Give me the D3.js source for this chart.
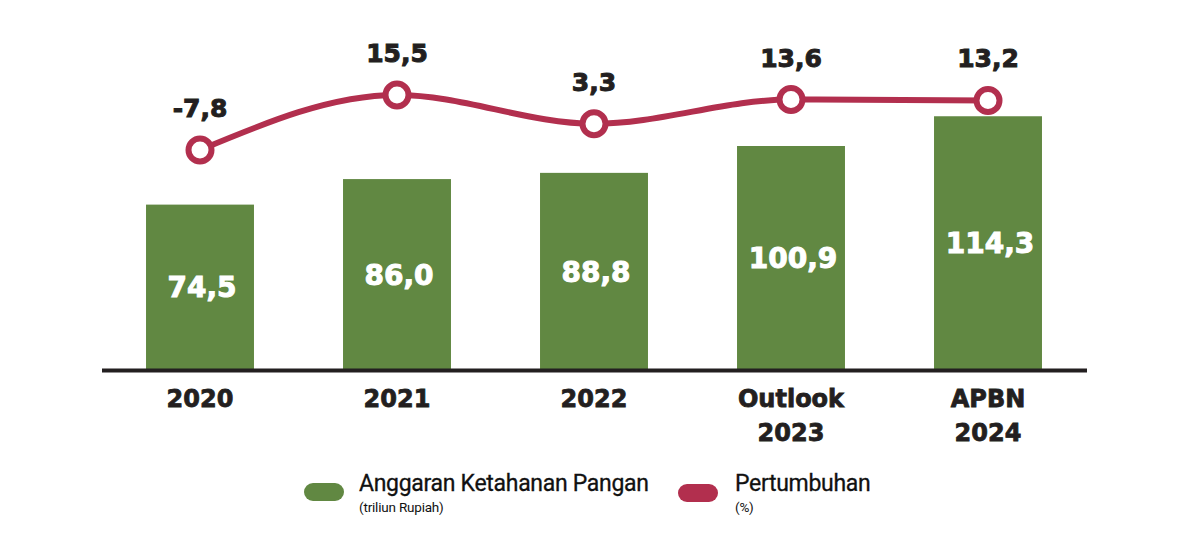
<!DOCTYPE html>
<html>
<head>
<meta charset="utf-8">
<script src="https://cdn.jsdelivr.net/npm/d3@7"></script>
<style>
  html, body { margin: 0; padding: 0; background: #ffffff; }
  svg { display: block; }
</style>
</head>
<body>
<svg id="chart" width="1198" height="552"></svg>
<script>
// ---- data ----
const categories = ["2020", "2021", "2022", "Outlook\n2023", "APBN\n2024"];
const budget = [74.5, 86.0, 88.8, 100.9, 114.3];       // Anggaran Ketahanan Pangan (triliun Rupiah)
const growth = [-7.8, 15.5, 3.3, 13.6, 13.2];          // Pertumbuhan (%)
const legendLabels = ["Anggaran Ketahanan Pangan", "Pertumbuhan"];
const legendSubLabels = ["(triliun Rupiah)", "(%)"];

const fmt = v => String(v.toFixed(1)).replace(".", ",");

const GREEN = "#618842";
const RED = "#b22f4e";
const DARK = "#231f20";

const svg = d3.select("#chart");

const x = d3.scaleBand()
  .domain(categories)
  .range([101.5, 1086.5])
  .paddingInner(0.452)
  .paddingOuter(0.226);

const yBar = d3.scaleLinear().domain([0, 120]).range([370, 103.6]);
const yLine = d3.scaleLinear().domain([-10, 20]).range([155.2, 84.4]);

// bars
svg.append("g").selectAll("rect")
  .data(budget)
  .join("rect")
  .attr("x", (d, i) => x(categories[i]))
  .attr("width", x.bandwidth())
  .attr("y", d => yBar(d))
  .attr("height", d => yBar(0) - yBar(d))
  .attr("fill", GREEN);

// bar labels
svg.append("g").selectAll("text")
  .data(budget)
  .join("text")
  .attr("x", (d, i) => x(categories[i]) + x.bandwidth() / 2 + 2)
  .attr("y", d => (yBar(d) + yBar(0)) / 2)
  .attr("dy", "0.36em")
  .attr("text-anchor", "middle")
  .attr("font-family", "DejaVu Sans")
  .attr("font-weight", "bold")
  .attr("font-size", 28)
  .attr("fill", "#ffffff")
  .attr("stroke", "#ffffff")
  .attr("stroke-width", 1)
  .text(d => fmt(d));

// x axis
const xAxis = d3.axisBottom(x).tickSize(0).tickFormat("");
const gx = svg.append("g").attr("transform", `translate(0,${yBar(0)})`).call(xAxis);
gx.select(".domain").attr("stroke", DARK).attr("stroke-width", 4);

// x labels (multi-line)
const xl = svg.append("g").selectAll("text")
  .data(categories)
  .join("text")
  .attr("x", d => x(d) + x.bandwidth() / 2)
  .attr("y", 407)
  .attr("text-anchor", "middle")
  .attr("font-family", "DejaVu Sans")
  .attr("font-weight", "bold")
  .attr("font-size", 24)
  .attr("fill", DARK)
  .attr("stroke", DARK)
  .attr("stroke-width", 0.8);
xl.each(function(d) {
  const lines = d.split("\n");
  d3.select(this).selectAll("tspan")
    .data(lines)
    .join("tspan")
    .attr("x", x(d) + x.bandwidth() / 2)
    .attr("dy", (l, i) => i === 0 ? 0 : 34)
    .text(l => l);
});

// growth line
const cx = (i) => x(categories[i]) + x.bandwidth() / 2;
const line = d3.line()
  .x((d, i) => cx(i))
  .y(d => yLine(d))
  .curve(d3.curveMonotoneX);

svg.append("path")
  .datum(growth)
  .attr("d", line)
  .attr("fill", "none")
  .attr("stroke", RED)
  .attr("stroke-width", 6);

svg.append("g").selectAll("circle")
  .data(growth)
  .join("circle")
  .attr("cx", (d, i) => cx(i))
  .attr("cy", d => yLine(d))
  .attr("r", 11.5)
  .attr("fill", "#ffffff")
  .attr("stroke", RED)
  .attr("stroke-width", 6);

svg.append("g").selectAll("text")
  .data(growth)
  .join("text")
  .attr("x", (d, i) => cx(i))
  .attr("y", d => yLine(d) - 33)
  .attr("text-anchor", "middle")
  .attr("font-family", "DejaVu Sans")
  .attr("font-weight", "bold")
  .attr("font-size", 25)
  .attr("fill", DARK)
  .attr("stroke", DARK)
  .attr("stroke-width", 1)
  .text(d => fmt(d));

// legend
const legendColors = [GREEN, RED];
const legendX = [304, 678];
const lg = svg.append("g");
legendLabels.forEach((lab, i) => {
  const g = lg.append("g").attr("transform", `translate(${legendX[i]},0)`);
  g.append("rect")
    .attr("x", 0).attr("y", 483 + i)
    .attr("width", 40).attr("height", 18)
    .attr("rx", 9).attr("ry", 9)
    .attr("fill", legendColors[i]);
  g.append("text")
    .attr("x", i === 0 ? 55 : 57).attr("y", 491)
    .attr("font-family", "Roboto")
    .attr("font-size", 23)
    .attr("letter-spacing", -0.3)
    .attr("fill", "#111")
    .attr("stroke", "#111")
    .attr("stroke-width", 0.3)
    .text(lab);
  g.append("text")
    .attr("x", i === 0 ? 55 : 57).attr("y", 512)
    .attr("font-family", "Roboto")
    .attr("font-size", 13.5)
    .attr("letter-spacing", -0.2)
    .attr("fill", "#111")
    .text(legendSubLabels[i]);
});
</script>
</body>
</html>
